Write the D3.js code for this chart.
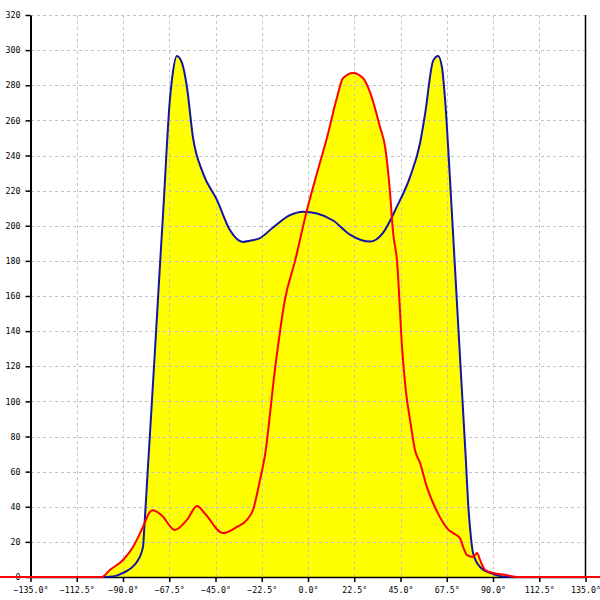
<!DOCTYPE html>
<html><head><meta charset="utf-8">
<script src="https://cdn.jsdelivr.net/npm/d3@7"></script>
<style>body{margin:0;background:#fff}svg{display:block}</style>
</head><body>
<svg id="c" width="600" height="600"></svg>
<script>
const xTicks = [-135, -112.5, -90, -67.5, -45, -22.5, 0, 22.5, 45, 67.5, 90, 112.5, 135];
const yTicks = [0, 20, 40, 60, 80, 100, 120, 140, 160, 180, 200, 220, 240, 260, 280, 300, 320];

const blueAngles = [-100.3,-94,-90,-83.3,-80.3,-79.4,-78.2,-76.6,-74.5,-72.4,-70.4,-67.2,-66.2,-63.8,-61.3,-58.9,-56,-51.1,-44.3,-38,-31.6,-28.2,-23.4,-17,-8.8,-2.4,4.4,12.2,20.4,30.2,36.5,43.3,49.7,54.5,57,60.9,63.3,65.2,66.7,69.1,71.7,74.3,76.8,77.9,78.9,80.3,83.7,88.6,93.5,99.3];
const blueValues = [0,0.5,2.3,8.5,17,32.5,56,87,128,170,209,271.6,283,296.7,292.7,279,250.6,230,214.7,197.6,190.8,191.5,193,199,206,208,207,203,195,191,196,211,228,247,264,294,296.7,290,271.6,226,172,118,66.6,42,27,13.7,5.7,2.3,0.5,0];

const redAngles = [-180,-100.3,-96.4,-90,-85.2,-80.3,-76.9,-75.5,-71.1,-64.8,-58.9,-54,-50.1,-41.4,-34.6,-29.7,-26.8,-23.4,-20.9,-16.1,-11.2,-6.3,-0.5,4.4,9.2,14.1,17,21.9,26.8,30.2,35.1,37.5,39.9,41.4,43.3,45.8,47.7,49.7,52.1,54.5,57.9,60.9,65.7,68.2,70.6,74,75.5,77.4,80.3,82.3,83.7,86.2,90.1,96.9,101.8,180];
const redValues = [0,0,4,9.7,17,28.5,37,38,35,26.8,32.5,40.4,36,25,28.5,32.5,38,55,69.5,118,158,180,209,230,250,273,284,287,284,276,256,245,219,196,180,130,105,89,72,65,51,42,31,27,25,22,17,12.5,11.4,13.7,9.7,4,2.3,1,0,0];

const svg = d3.select("#c");
const x = d3.scaleLinear().domain([-135, 135]).range([30.5, 585.5]);
const y = d3.scaleLinear().domain([0, 320]).range([577, 15]);

const blue = blueAngles.map((a, i) => [a, blueValues[i]]);
const red = redAngles.map((a, i) => [a, redValues[i]]);

const area = d3.area().x(d => x(d[0])).y0(y(0)).y1(d => y(d[1])).curve(d3.curveMonotoneX);
const line = d3.line().x(d => x(d[0])).y(d => y(d[1])).curve(d3.curveMonotoneX);

svg.append("path").datum(blue).attr("d", area).attr("fill", "#ffff00");
svg.append("path").datum(red).attr("d", area).attr("fill", "#ffff00");

// grid
const grid = svg.append("g").attr("stroke", "#c4c4c4").attr("stroke-width", 1).attr("stroke-dasharray", "3,3");
grid.selectAll("line.h").data(yTicks.filter(d => d > 0)).join("line")
  .attr("x1", 31).attr("x2", 586).attr("y1", d => Math.round(y(d)) + 0.5).attr("y2", d => Math.round(y(d)) + 0.5);
grid.selectAll("line.v").data(xTicks.filter(d => d > -135 && d < 135)).join("line")
  .attr("y1", 15).attr("y2", 577).attr("x1", d => Math.round(x(d)) + 0.5).attr("x2", d => Math.round(x(d)) + 0.5);

// axes
const fontFam = "'DejaVu Sans Mono', monospace";
const xAxis = d3.axisBottom(x).tickValues(xTicks).tickSize(5).tickSizeOuter(0).tickFormat(d => d3.format(".1f")(d) + "\u00b0");
const gx = svg.append("g").attr("transform", "translate(0,577)").call(xAxis);
gx.selectAll("text").attr("font-family", fontFam).attr("font-size", 8.3).attr("fill", "#000").attr("dy", "0.95em");
gx.selectAll("line").attr("stroke", "#000").attr("stroke-width", 1.5);
gx.select(".domain").attr("stroke", "#000").attr("stroke-width", 1.5);

const yAxis = d3.axisLeft(y).tickValues(yTicks).tickSize(5).tickSizeOuter(0).tickPadding(5);
const gy = svg.append("g").attr("transform", "translate(30.5,0)").call(yAxis);
gy.selectAll("text").attr("font-family", fontFam).attr("font-size", 8.3).attr("fill", "#000");
gy.selectAll("line").attr("stroke", "#000").attr("stroke-width", 1.5);
gy.select(".domain").attr("stroke", "#000").attr("stroke-width", 2);

svg.append("line").attr("x1", x(135)).attr("x2", x(135)).attr("y1", 15).attr("y2", 577)
  .attr("stroke", "#000").attr("stroke-width", 1.5);

// lines
svg.append("path").datum(blue).attr("d", line).attr("fill", "none").attr("stroke", "#1414a8").attr("stroke-width", 2);
svg.append("path").datum(red).attr("d", line).attr("fill", "none").attr("stroke", "#ff0000").attr("stroke-width", 2);
</script>
</body></html>
